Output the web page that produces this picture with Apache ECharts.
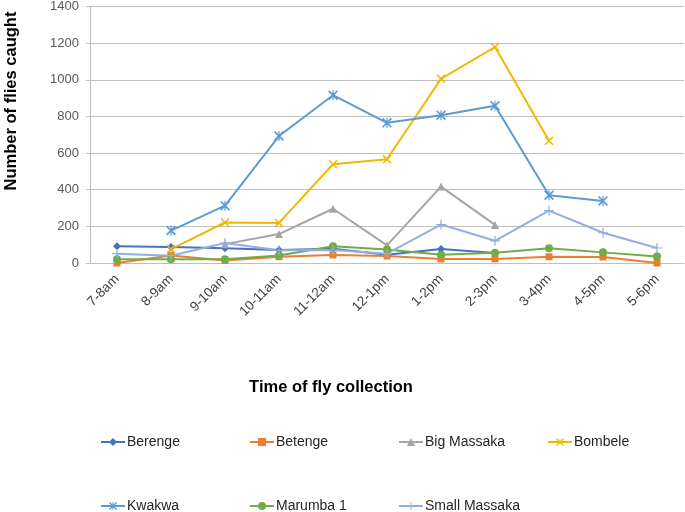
<!DOCTYPE html>
<html><head><meta charset="utf-8">
<script src="https://cdn.jsdelivr.net/npm/echarts@6/dist/echarts.min.js"></script>
<style>html,body{margin:0;padding:0;background:#fff}#c{width:685px;height:512px}</style>
</head><body><div id="c"></div>
<script>
const categories = ['7-8am','8-9am','9-10am','10-11am','11-12am','12-1pm','1-2pm','2-3pm','3-4pm','4-5pm','5-6pm'];
const yTicks = [0,200,400,600,800,1000,1200,1400];
const berenge      = [92, 87, 80, 71, 78, 45, 76, 55, null, null, null];
const betenge      = [0, 41, 14, 34, 44, 38, 22, 22, 34, 33, 0];
const bigMassaka   = [null, null, 103, 158, 296, 96, 417, 208, null, null, null];
const bombele      = [null, 76, 221, 219, 539, 566, 1005, 1179, 667, null, null];
const kwakwa       = [null, 177, 313, 693, 916, 765, 807, 858, 370, 339, null];
const marumba1     = [20, 20, 21, 41, 92, 74, 45, 56, 80, 58, 36];
const smallMassaka = [51, 40, 109, 69, 71, 51, 210, 121, 286, 165, 82];
const seriesNames  = ['Berenge','Betenge','Big Massaka','Bombele','Kwakwa','Marumba 1','Small Massaka'];
const seriesData   = [berenge, betenge, bigMassaka, bombele, kwakwa, marumba1, smallMassaka];

const colors = ['#4472C4','#ED7D31','#A5A5A5','#F2B800','#5B9BD5','#70AD47','#94AEE0'];
const X = 'path://M0,1.2L1.2,0L10,8.8L8.8,10Z M8.8,0L10,1.2L1.2,10L0,8.8Z';
const PLUS = 'path://M4.4,0H5.6V10H4.4Z M0,4.4H10V5.6H0Z';
const AST = 'path://M0,1.2L1.2,0L10,8.8L8.8,10Z M8.8,0L10,1.2L1.2,10L0,8.8Z M4.4,0H5.6V10H4.4Z';
const symbols = ['diamond','rect','triangle',X,AST,'circle',PLUS];
const sizes = [8,7,8,9,10,8,10];
const FONT = 'Liberation Sans, Arial, sans-serif';

const series = seriesNames.map((n,i)=>({
  name:n, type:'line', data:seriesData[i], symbol:symbols[i], symbolSize:sizes[i],
  showSymbol:true, connectNulls:false,
  lineStyle:{color:colors[i], width:2},
  itemStyle:{color:colors[i]},
  emphasis:{disabled:true}, animation:false
}));

const legendPos = [[100,441],[249,441],[398,441],[547,441],[100,505],[249,505],[398,505]];
const legends = seriesNames.map((n,i)=>({
  data:[n], left:legendPos[i][0], top:legendPos[i][1]-6, padding:0, itemWidth:24, itemHeight:10, itemGap:0,
  textStyle:{fontFamily:FONT, fontSize:14, color:'#262626', padding:[0,0,0,-3]},
  selectedMode:false
}));

const chart = echarts.init(document.getElementById('c'), null, {renderer:'canvas'});
chart.setOption({
  animation:false,
  grid:{left:90, top:6, right:1, bottom:249, containLabel:false},
  legend: legends,
  xAxis:{type:'category', data:categories, boundaryGap:true,
    axisLine:{show:true, lineStyle:{color:'#bfbfbf', width:1}},
    axisTick:{show:false},
    axisLabel:{rotate:45, fontFamily:FONT, fontSize:13.5, color:'#404040', margin:14, interval:0},
    splitLine:{show:false}},
  yAxis:{type:'value', min:yTicks[0], max:yTicks[yTicks.length-1], interval:200,
    axisLine:{show:true, lineStyle:{color:'#bfbfbf', width:1}},
    axisTick:{show:true, length:4, lineStyle:{color:'#bfbfbf'}},
    axisLabel:{fontFamily:FONT, fontSize:13, color:'#595959', margin:11, formatter:v=>String(v)},
    splitLine:{show:true, lineStyle:{color:'#bfbfbf', width:1}}},
  graphic:[
    {type:'text', x:11, y:101, rotation:Math.PI/2,
     style:{text:'Number of flies caught', font:'bold 16.5px '+FONT, fill:'#000', align:'center', verticalAlign:'middle'}},
    {type:'text', x:331, y:387,
     style:{text:'Time of fly collection', font:'bold 16.5px '+FONT, fill:'#000', align:'center', verticalAlign:'middle'}}
  ],
  series: series
});
</script></body></html>
